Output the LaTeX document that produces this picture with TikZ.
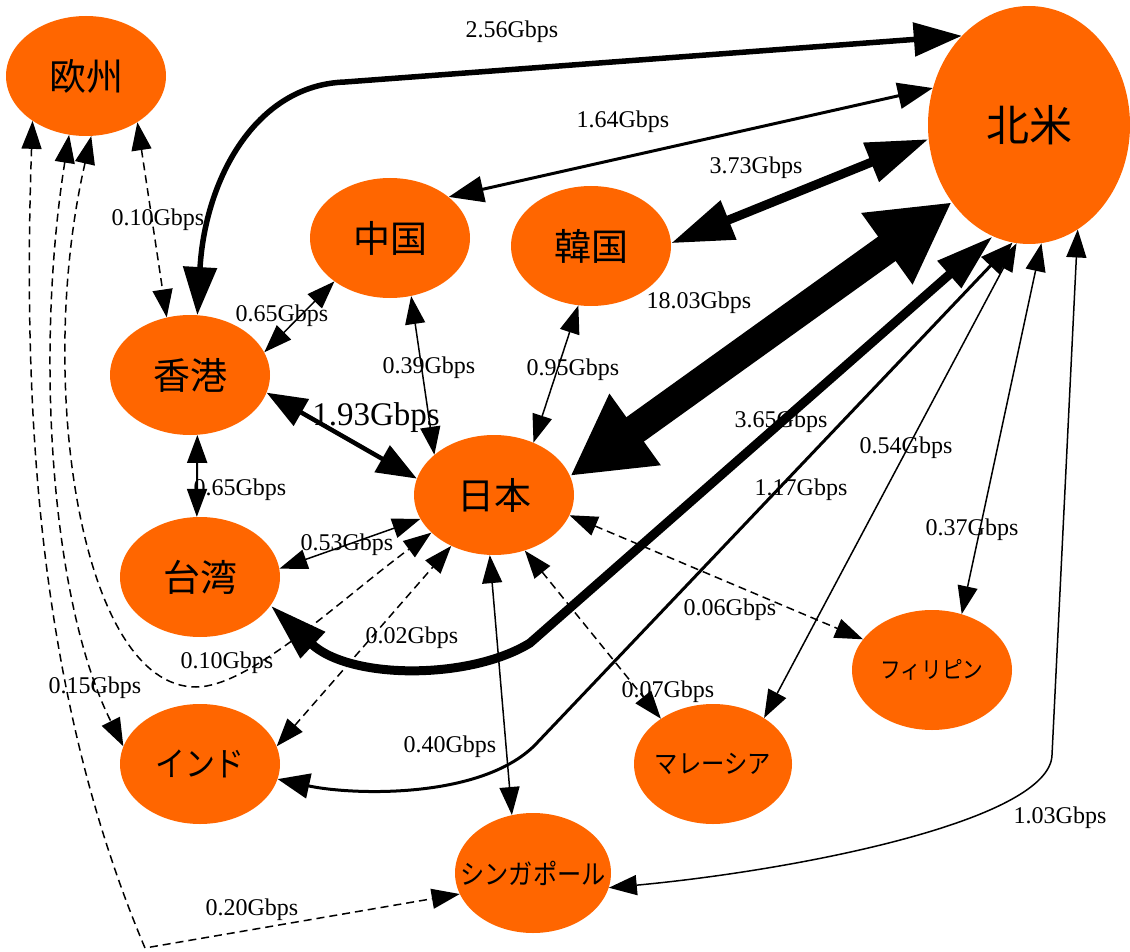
\documentclass[tikz,border=0pt]{standalone}
\usepackage{fontspec}
\setmainfont{Liberation Serif}
\newfontfamily\jafont{Noto Sans CJK JP}
\newfontfamily\kanafont[FakeStretch=0.88]{Noto Sans CJK JP}
\usepackage{tikz}
\usetikzlibrary{arrows.meta,shapes.geometric,positioning}
\definecolor{areaorange}{HTML}{FF6600}

\begin{document}
\begin{tikzpicture}[x=1pt,y=-1pt,
    area/.style={ellipse,fill=areaorange,inner sep=0pt,minimum width=160pt,minimum height=120pt,font=\jafont\fontsize{37}{40}\selectfont},
    kana/.style={area,inner xsep=-20pt,font=\kanafont\fontsize{#1}{#1}\selectfont},
    rate/.style={inner sep=0pt,font=\fontsize{24}{26}\selectfont},
    link/.style={<->,line width=1.5pt,>={Triangle[length=28pt,width=20pt]}},
    weak/.style={link,dash pattern=on 8pt off 5pt},
    heavy/.style n args={3}{<->,line width=#1,>={Triangle[length=#2,width=#3]}}]
    \useasboundingbox (0,0) rectangle (1130,952);

    % areas
    \node[area,minimum width=202pt,minimum height=238pt,font=\jafont\fontsize{43}{46}\selectfont] (na) at (1029,125) {北米};
    \node[area] (ou) at (86,76) {欧州};
    \node[area] (cn) at (390,238) {中国};
    \node[area] (kr) at (591,246) {韓国};
    \node[area] (hk) at (190,375) {香港};
    \node[area] (jp) at (494,495) {日本};
    \node[area] (tw) at (200,577) {台湾};
    \node[kana=34] (ind) at (200,764) {インド};
    \node[kana=27.5,minimum width=156pt] (sg) at (533,873) {シンガポール};
    \node[kana=26.5,minimum width=158pt] (my) at (713,764) {マレーシア};
    \node[kana=23.5] (ph) at (932,670) {フィリピン};

    % links to north america
    \draw[heavy={5.5pt}{48pt}{33pt}] (hk.83) .. controls (205,180) and (255,85) .. (345,82) -- (na.127);
    \draw[heavy={3pt}{35pt}{26pt}] (cn.35) -- (na.159);
    \draw[heavy={9pt}{62pt}{40pt}] (kr.2) -- (na.188);
    \draw[heavy={30pt}{80pt}{82pt}] (jp.14) -- (na.225);
    \draw[heavy={9pt}{58pt}{34pt}] (tw.338) .. controls (350,680) and (470,680) .. (530,643) -- (na.252);
    \draw[heavy={3pt}{32pt}{25pt}] (ind.349) .. controls (350,795) and (480,800) .. (535,745) -- (na.262);
    \draw[link] (my.42) -- (na.264);
    \draw[link] (ph.62) -- (na.276);
    \draw[link] (sg.349) .. controls (800,870) and (1050,820) .. (1052,755) -- (na.295);

    % links in asia
    \draw[weak] (ou.318) -- (hk.112);
    \draw[link] (hk.17) -- (cn.218);
    \draw[heavy={4.5pt}{40pt}{30pt}] (hk.347) -- (jp.168);
    \draw[link,line width=2pt] (hk.277) -- (tw.93);
    \draw[link] (cn.290) -- (jp.146);
    \draw[link] (kr.258) -- (jp.53);
    \draw[link] (tw.6) -- (jp.198);
    \draw[weak] (ou.275) .. controls (35,380) and (80,687) .. (196,687) .. controls (250,687) and (340,600) .. (jp.211);
    \draw[weak] (ind.13) -- (jp.230);
    \draw[link] (jp.266) -- (sg.110);
    \draw[weak] (jp.299) -- (my.139);
    \draw[weak] (jp.345) -- (ph.156);
    \draw[weak] (ou.220) .. controls (22,420) and (40,700) .. (145,948) -- (sg.196);
    \draw[weak] (ou.254) .. controls (35,350) and (50,600) .. (ind.167);

    % rates
    \node[rate] (r256) at (512,32) {2.56Gbps};
    \node[rate] (r164) at (623,122) {1.64Gbps};
    \node[rate] (r373) at (756,168) {3.73Gbps};
    \node[rate] (r1803) at (699,303) {18.03Gbps};
    \node[rate] (r365) at (781,422) {3.65Gbps};
    \node[rate] (r117) at (801,490) {1.17Gbps};
    \node[rate] (r054) at (906,448) {0.54Gbps};
    \node[rate] (r037) at (972,530) {0.37Gbps};
    \node[rate] (r103) at (1060,818) {1.03Gbps};
    \node[rate] (r010a) at (158,220) {0.10Gbps};
    \node[rate] (r065a) at (282,316) {0.65Gbps};
    \node[rate,font=\fontsize{33}{36}\selectfont] (r193) at (376,418) {1.93Gbps};
    \node[rate] (r065b) at (240,490) {0.65Gbps};
    \node[rate] (r039) at (429,368) {0.39Gbps};
    \node[rate] (r095) at (573,370) {0.95Gbps};
    \node[rate] (r053) at (347,545) {0.53Gbps};
    \node[rate] (r010b) at (227,663) {0.10Gbps};
    \node[rate] (r002) at (412,638) {0.02Gbps};
    \node[rate] (r040) at (450,747) {0.40Gbps};
    \node[rate] (r007) at (668,692) {0.07Gbps};
    \node[rate] (r006) at (730,610) {0.06Gbps};
    \node[rate] (r020) at (252,910) {0.20Gbps};
    \node[rate] (r015) at (95,688) {0.15Gbps};
\end{tikzpicture}
\end{document}
